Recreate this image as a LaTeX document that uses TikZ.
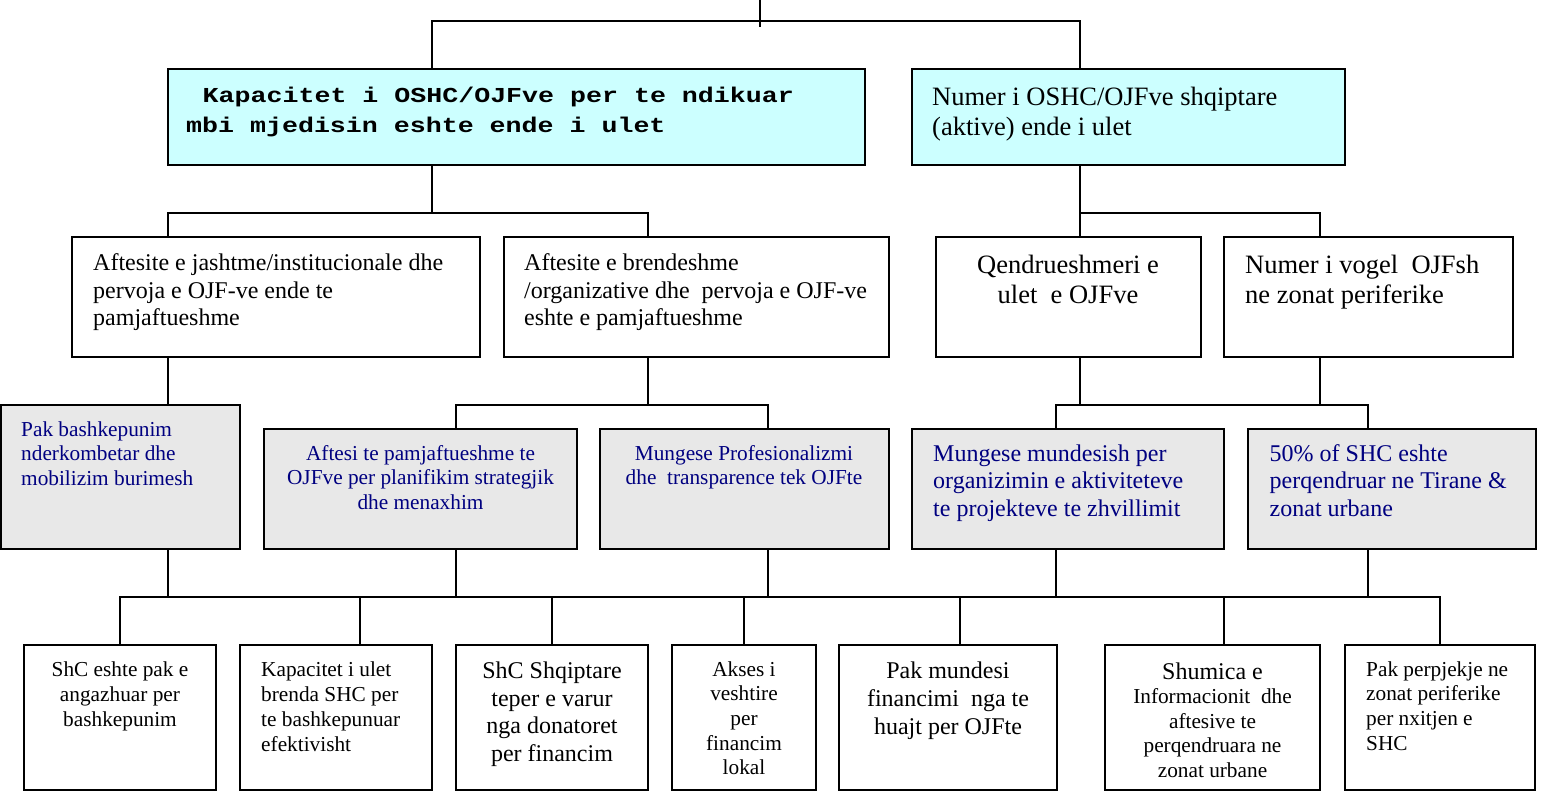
\documentclass[tikz,border=0pt]{standalone}
\usepackage{fontspec}
\setmainfont{Liberation Serif}
\newfontfamily\monob{Liberation Mono}[FakeStretch=1.25]
\definecolor{cyanfill}{HTML}{CCFFFF}
\definecolor{grayfill}{HTML}{E8E8E8}
\definecolor{navy}{HTML}{000080}
\newcommand\fs[2]{\fontsize{#1}{#2}\selectfont}
\begin{document}
\begin{tikzpicture}[x=1pt,y=-1pt,
  conn/.style={line width=1.6pt, draw=black},
  boxw/.style={draw=black, line width=2pt, fill=white, inner sep=0pt, outer sep=0pt, anchor=north west},
  boxc/.style={boxw, fill=cyanfill},
  boxg/.style={boxw, fill=grayfill},
  tl/.style={inner sep=0pt, anchor=north west, align=left},
  tc/.style={inner sep=0pt, anchor=north, align=center},
  bt/.style={text=navy}
  ]
\useasboundingbox (0,0) rectangle (1542,798);

% ---------- boxes ----------
\node[boxc, minimum width=697, minimum height=96] (A) at (168,69) {};
\node[boxc, minimum width=433, minimum height=96] (B) at (912,69) {};
\node[boxw, minimum width=408, minimum height=120] (C) at (72,237) {};
\node[boxw, minimum width=385, minimum height=120] (D) at (504,237) {};
\node[boxw, minimum width=265, minimum height=120] (E) at (936,237) {};
\node[boxw, minimum width=289, minimum height=120] (F) at (1224,237) {};
\node[boxg, minimum width=239, minimum height=144] (G) at (1,405) {};
\node[boxg, minimum width=313, minimum height=120] (H) at (264,429) {};
\node[boxg, minimum width=289, minimum height=120] (I) at (600,429) {};
\node[boxg, minimum width=312, minimum height=120] (J) at (912,429) {};
\node[boxg, minimum width=288, minimum height=120] (K) at (1248,429) {};
\node[boxw, minimum width=192, minimum height=145] (L) at (24,645) {};
\node[boxw, minimum width=192, minimum height=145] (M) at (240,645) {};
\node[boxw, minimum width=192, minimum height=145] (N) at (456,645) {};
\node[boxw, minimum width=144, minimum height=145] (O) at (672,645) {};
\node[boxw, minimum width=218, minimum height=145] (P) at (839,645) {};
\node[boxw, minimum width=215, minimum height=145] (Q) at (1105,645) {};
\node[boxw, minimum width=190, minimum height=145] (R) at (1345,645) {};

% ---------- texts ----------
\node[tl, font=\monob\bfseries\fs{21.3}{30.5}] (At) at (186,{102-0.7*30.5})
  {\strut\hspace*{16.5pt}Kapacitet i OSHC/OJFve per te ndikuar\\mbi mjedisin eshte ende i ulet};
\node[tl, font=\fs{26.5}{30}] (Bt) at (932,{105-0.7*30})
  {\strut Numer i OSHC/OJFve shqiptare\\(aktive) ende i ulet};
\node[tl, font=\fs{24}{27.5}] (Ct) at (93,{270.5-0.7*27.5})
  {\strut Aftesite e jashtme/institucionale dhe\\pervoja e OJF-ve ende te\\pamjaftueshme};
\node[tl, font=\fs{24}{27.5}] (Dt) at (524,{270.5-0.7*27.5})
  {\strut Aftesite e brendeshme\\/organizative dhe\ \ pervoja e OJF-ve\\eshte e pamjaftueshme};
\node[tc, font=\fs{26.5}{30.5}] (Et) at (1068,{273-0.7*30.5})
  {\strut Qendrueshmeri e\\ulet\ \ e OJFve};
\node[tl, font=\fs{26.5}{30.5}] (Ft) at (1245,{273-0.7*30.5})
  {\strut Numer i vogel\ \ OJFsh\\ne zonat periferike};
\node[tl, bt, font=\fs{21.3}{24.5}] (Gt) at (21,{436-0.7*24.5})
  {\strut Pak bashkepunim\\nderkombetar dhe\\mobilizim burimesh};
\node[tc, bt, font=\fs{21.3}{24.5}] (Ht) at (420.5,{460-0.7*24.5})
  {\strut Aftesi te pamjaftueshme te\\OJFve per planifikim strategjik\\dhe menaxhim};
\node[tc, bt, font=\fs{21.3}{24.5}] (It) at (744,{460-0.7*24.5})
  {\strut Mungese Profesionalizmi\\dhe\ \ transparence tek OJFte};
\node[tl, bt, font=\fs{24}{27.5}] (Jt) at (933,{461-0.7*27.5})
  {\strut Mungese mundesish per\\organizimin e aktiviteteve\\te projekteve te zhvillimit};
\node[tl, bt, font=\fs{24}{27.5}] (Kt) at (1269.5,{461-0.7*27.5})
  {\strut 50\% of SHC eshte\\perqendruar ne Tirane \&\\zonat urbane};
\node[tc, font=\fs{21.3}{25}] (Lt) at (120,{676-0.7*25})
  {\strut ShC eshte pak e\\angazhuar per\\bashkepunim};
\node[tl, font=\fs{21.3}{25}] (Mt) at (261,{676-0.7*25})
  {\strut Kapacitet i ulet\\brenda SHC per\\te bashkepunuar\\efektivisht};
\node[tc, font=\fs{24}{27.8}] (Nt) at (552,{678-0.7*27.8})
  {\strut ShC Shqiptare\\teper e varur\\nga donatoret\\per financim};
\node[tc, font=\fs{21.3}{24.6}] (Ot) at (744,{676-0.7*24.6})
  {\strut Akses i\\veshtire\\per\\financim\\lokal};
\node[tc, font=\fs{24}{28}] (Pt) at (948,{678-0.7*28})
  {\strut Pak mundesi\\financimi\ \ nga te\\huajt per OJFte};
\node[tc, font=\fs{21.3}{24.5}] (Qt) at (1212.5,{679-0.7*26})
  {{\fs{24}{26}\strut Shumica e}\\Informacionit\ \ dhe\\aftesive te\\perqendruara ne\\zonat urbane};
\node[tl, font=\fs{21.3}{24.7}] (Rt) at (1366,{676-0.7*24.7})
  {\strut Pak perpjekje ne\\zonat periferike\\per nxitjen e\\SHC};

% ---------- connectors ----------
\coordinate (root) at (760,0);
\coordinate (rootend) at (760,27);
\draw[conn] (root) -- (rootend);
\coordinate (jA) at (432,21);
\coordinate (jB) at (1080,21);
\draw[conn] (A.north -| jA) -- (jA) -- (jB) -- (B.north -| jB);

\coordinate (jA2) at (432,213);
\coordinate (jC) at (168,213);
\coordinate (jD) at (648,213);
\draw[conn] (A.south -| jA2) -- (jA2);
\draw[conn] (C.north -| jC) -- (jC) -- (jD) -- (D.north -| jD);

\coordinate (jE) at (1080,213);
\coordinate (jF) at (1320,213);
\draw[conn] (B.south -| jE) -- (E.north -| jE);
\draw[conn] (jE) -- (jF) -- (F.north -| jF);

\coordinate (jG) at (168,405);
\draw[conn] (C.south -| jG) -- (G.north -| jG);

\coordinate (jD2) at (648,405);
\coordinate (jH) at (456,405);
\coordinate (jI) at (768,405);
\draw[conn] (D.south -| jD2) -- (jD2);
\draw[conn] (H.north -| jH) -- (jH) -- (jI) -- (I.north -| jI);

\coordinate (jE2) at (1080,405);
\coordinate (jF2) at (1320,405);
\coordinate (jJ) at (1056,405);
\coordinate (jK) at (1368,405);
\draw[conn] (E.south -| jE2) -- (jE2);
\draw[conn] (F.south -| jF2) -- (jF2);
\draw[conn] (J.north -| jJ) -- (jJ) -- (jK) -- (K.north -| jK);

\coordinate (uG) at (168,597);
\coordinate (uH) at (456,597);
\coordinate (uI) at (768,597);
\coordinate (uJ) at (1056,597);
\coordinate (uK) at (1368,597);
\draw[conn] (G.south -| uG) -- (uG);
\draw[conn] (H.south -| uH) -- (uH);
\draw[conn] (I.south -| uI) -- (uI);
\draw[conn] (J.south -| uJ) -- (uJ);
\draw[conn] (K.south -| uK) -- (uK);

\coordinate (dL) at (120,597);
\coordinate (dM) at (360,597);
\coordinate (dN) at (552,597);
\coordinate (dO) at (744,597);
\coordinate (dP) at (960,597);
\coordinate (dQ) at (1224,597);
\coordinate (dR) at (1440,597);
\draw[conn] (L.north -| dL) -- (dL) -- (dR) -- (R.north -| dR);
\draw[conn] (dM) -- (M.north -| dM);
\draw[conn] (dN) -- (N.north -| dN);
\draw[conn] (dO) -- (O.north -| dO);
\draw[conn] (dP) -- (P.north -| dP);
\draw[conn] (dQ) -- (Q.north -| dQ);
\end{tikzpicture}
\end{document}
